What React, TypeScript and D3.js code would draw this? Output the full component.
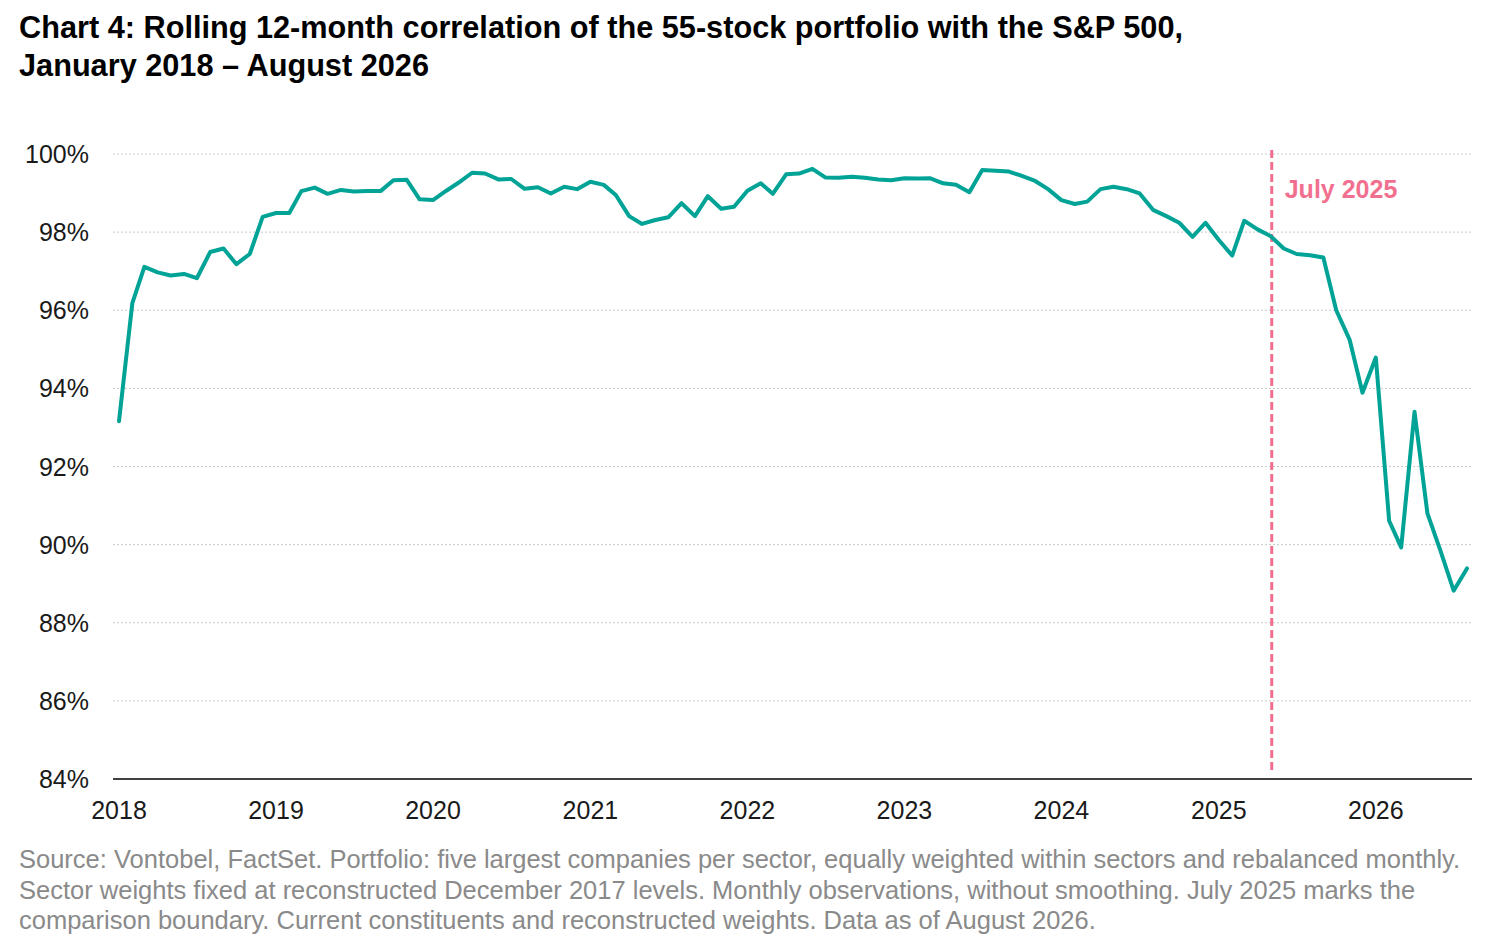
import { useEffect } from 'react'
import * as d3 from 'd3'

const TITLE_LINES = [
  'Chart 4: Rolling 12-month correlation of the 55-stock portfolio with the S&P 500,',
  'January 2018 – August 2026',
]

const FOOTNOTE_LINES = [
  'Source: Vontobel, FactSet. Portfolio: five largest companies per sector, equally weighted within sectors and rebalanced monthly.',
  'Sector weights fixed at reconstructed December 2017 levels. Monthly observations, without smoothing. July 2025 marks the',
  'comparison boundary. Current constituents and reconstructed weights. Data as of August 2026.',
]

// monthly observations, Jan 2018 .. Aug 2026 (%)
const START_MONTH = new Date(2018, 0, 1)
const CORRELATION = [
  93.16, 96.18, 97.11, 96.97, 96.89, 96.93, 96.82, 97.49, 97.58, 97.18, 97.44, 98.39,
  98.49, 98.49, 99.05, 99.14, 98.98, 99.08, 99.04, 99.05, 99.05, 99.33, 99.34, 98.84,
  98.82, 99.06, 99.27, 99.52, 99.50, 99.35, 99.36, 99.11, 99.15, 98.99, 99.16, 99.10,
  99.29, 99.21, 98.95, 98.41, 98.21, 98.31, 98.38, 98.74, 98.41, 98.92, 98.60, 98.65,
  99.06, 99.25, 98.98, 99.48, 99.50, 99.62, 99.40, 99.39, 99.42, 99.39, 99.35, 99.33,
  99.38, 99.37, 99.38, 99.25, 99.21, 99.02, 99.59, 99.57, 99.55, 99.44, 99.31, 99.10,
  98.82, 98.72, 98.78, 99.10, 99.16, 99.10, 98.99, 98.57, 98.41, 98.24, 97.88, 98.24,
  97.80, 97.40, 98.29, 98.07, 97.90, 97.58, 97.44, 97.41, 97.35, 96.00, 95.25, 93.89,
  94.79, 90.61, 89.93, 93.40, 90.80, 89.82, 88.82, 89.39,
]

const Y_TICKS = [84, 86, 88, 90, 92, 94, 96, 98, 100]
const YEAR_TICKS = [2018, 2019, 2020, 2021, 2022, 2023, 2024, 2025, 2026]

const MARKER_DATE = new Date(2025, 4, 4)
const MARKER_LABEL = 'July 2025'

const W = 1500
const H = 952
const FONT = 'Arial, "Liberation Sans", Helvetica, sans-serif'
const TEAL = '#00A396'
const PINK = '#F2708F'

export default function App() {
  useEffect(() => {
    document.body.style.margin = '0'
  }, [])

  const points = CORRELATION.map((v, i) => ({
    date: d3.timeMonth.offset(START_MONTH, i),
    value: v,
  }))

  const x = d3.scaleTime()
    .domain([points[0].date, points[points.length - 1].date])
    .range([119, 1467])
  const y = d3.scaleLinear().domain([84, 100]).range([779, 154])

  const line = d3.line<{ date: Date; value: number }>()
    .x(d => x(d.date))
    .y(d => y(d.value))

  const plotLeft = 113
  const plotRight = 1472
  const mx = x(MARKER_DATE)

  return (
    <svg width={W} height={H} style={{ display: 'block', background: '#fff' }} fontFamily={FONT}>
      {/* title */}
      {TITLE_LINES.map((t, i) => (
        <text key={i} x={19} y={38 + i * 38} fontSize={30.7} fontWeight="bold" fill="#000">
          {t}
        </text>
      ))}

      {/* grid */}
      {Y_TICKS.filter(t => t > 84).map(t => (
        <line
          key={t}
          x1={plotLeft} x2={plotRight}
          y1={y(t)} y2={y(t)}
          stroke="#c9c9c9" strokeWidth={1} strokeDasharray="2,2"
        />
      ))}

      {/* y tick labels */}
      {Y_TICKS.map(t => (
        <text
          key={t}
          x={89} y={y(t)}
          textAnchor="end" dominantBaseline="central"
          fontSize={25} fill="#1a1a1a"
        >
          {t}%
        </text>
      ))}

      {/* x axis */}
      <line x1={plotLeft} x2={plotRight} y1={y(84)} y2={y(84)} stroke="#000" strokeWidth={1.5} />
      {YEAR_TICKS.map(yr => (
        <text
          key={yr}
          x={x(new Date(yr, 0, 1))} y={819}
          textAnchor="middle" fontSize={25} fill="#1a1a1a"
        >
          {yr}
        </text>
      ))}

      {/* marker */}
      <line
        x1={mx} x2={mx} y1={150} y2={773}
        stroke={PINK} strokeWidth={3} strokeDasharray="8,4"
      />
      <text x={mx + 13} y={198} fontSize={25} fontWeight="bold" fill={PINK}>
        {MARKER_LABEL}
      </text>

      {/* series */}
      <path
        d={line(points) ?? ''}
        fill="none" stroke={TEAL} strokeWidth={4}
        strokeLinejoin="round" strokeLinecap="round"
      />

      {/* footnote */}
      {FOOTNOTE_LINES.map((t, i) => (
        <text key={i} x={19} y={868 + i * 30.7} fontSize={25.5} fill="#8a8a8a">
          {t}
        </text>
      ))}
    </svg>
  )
}
